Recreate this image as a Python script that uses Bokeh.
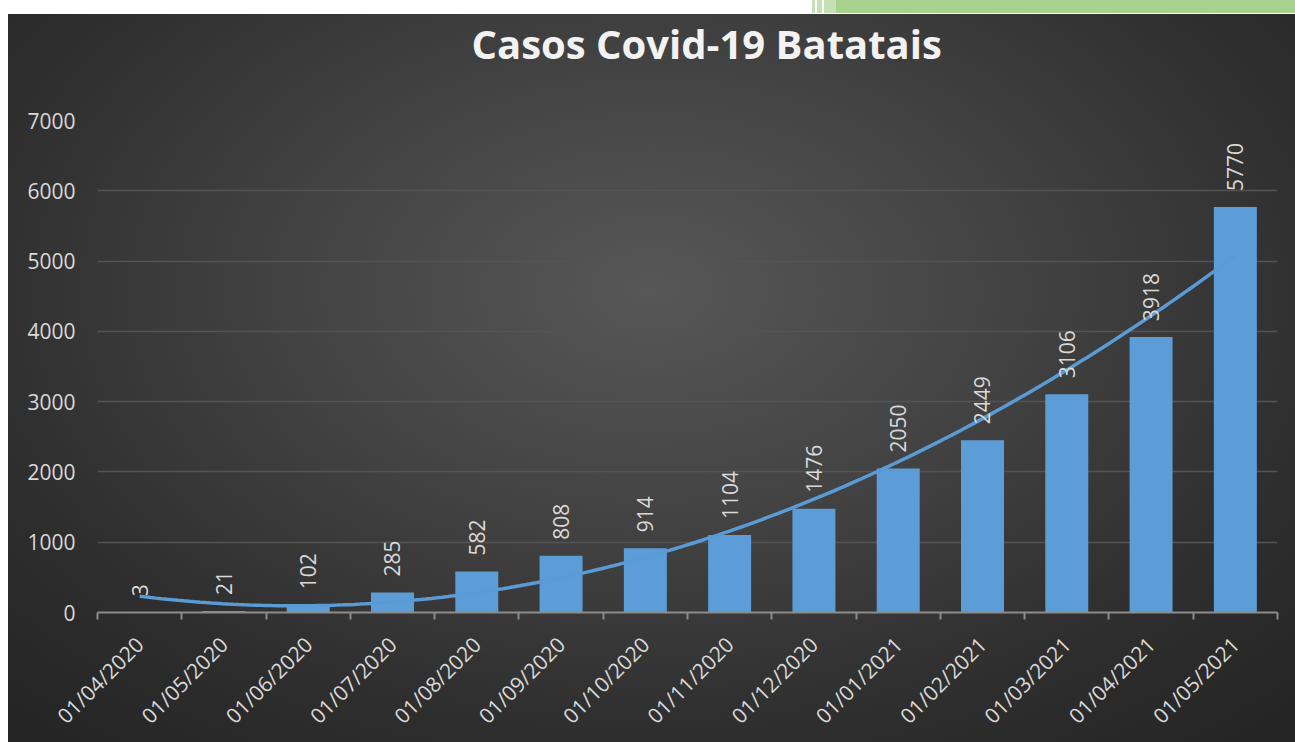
import numpy as np
from bokeh.plotting import figure
from bokeh.models import (ColumnDataSource, FixedTicker, LabelSet, Title, Range1d)
from bokeh.core.properties import value
from bokeh.embed import file_html
from bokeh.resources import INLINE

# ---- data ----
dates = ["01/04/2020", "01/05/2020", "01/06/2020", "01/07/2020", "01/08/2020",
         "01/09/2020", "01/10/2020", "01/11/2020", "01/12/2020", "01/01/2021",
         "01/02/2021", "01/03/2021", "01/04/2021", "01/05/2021"]
cases = [3, 21, 102, 285, 582, 808, 914, 1104, 1476, 2050, 2449, 3106, 3918, 5770]
y_ticks = [0, 1000, 2000, 3000, 4000, 5000, 6000, 7000]
title_text = "Casos Covid-19 Batatais"

idx = list(range(1, len(dates) + 1))
src = ColumnDataSource(dict(x=idx, y=cases, lab=[str(c) for c in cases]))

# polynomial (order 2) trendline, as in the spreadsheet chart
coef = np.polyfit(idx, cases, 2)
tx = np.linspace(1, len(dates), 200)
ty = np.polyval(coef, tx)

FONT = "Open Sans"
TXT = "#d9d9d9"

p = figure(width=1295, height=742, output_backend="svg", toolbar_location=None,
           x_range=Range1d(0.5, len(dates) + 0.5), y_range=Range1d(0, 7000),
           min_border_left=97, min_border_right=18, min_border_top=120,
           min_border_bottom=128, outline_line_color=None)
p.background_fill_color = None
p.border_fill_color = None
strip = ("linear-gradient(to right, #ffffff 0px, #ffffff 812px, #c5e0b4 812px, #c5e0b4 815px, "
         "#ffffff 815px, #ffffff 817px, #c5e0b4 817px, #c5e0b4 822px, #ffffff 822px, #ffffff 824px, "
         "#c5e0b4 824px, #c5e0b4 836px, #a9d18e 836px, #a9d18e 100%) 0 0 / 100% 13px no-repeat")
grad = ("radial-gradient(ellipse 75% 85% at 50% 38%, #575757 0%, #444444 35%, #2f2f2f 70%, #232323 100%) "
        "8px 14px / calc(100% - 8px) calc(100% - 14px) no-repeat")
p.styles = {"background": strip + ", " + grad + ", #ffffff"}

title = Title(text=title_text, align="left", offset=374, vertical_align="top",
              standoff=24, padding=dict(left=0, right=0, top=0, bottom=36),
              text_font=FONT, text_font_size="40px",
              text_font_style="bold", text_color="#f2f2f2")
p.add_layout(title, "above")

p.vbar(x="x", top="y", width=0.51, source=src, fill_color="#5d9dd7",
       line_color=None)
p.line(tx, ty, line_color="#5b9bd5", line_width=3.5)

labels = LabelSet(x="x", y="y", text="lab", source=src, angle=np.pi / 2,
                  text_align="left", text_baseline="middle", y_offset=16,
                  text_color=TXT, text_font=value(FONT), text_font_size="21px")
p.add_layout(labels)

# x axis
p.xaxis.ticker = FixedTicker(ticks=idx, minor_ticks=[i + 0.5 for i in range(0, len(dates) + 1)])
p.xaxis.major_label_overrides = {i: d for i, d in zip(idx, dates)}
p.xaxis.major_label_orientation = np.pi / 4
p.xaxis.major_tick_out = 0
p.xaxis.major_tick_in = 0
p.xaxis.minor_tick_out = 7
p.xaxis.minor_tick_in = 0
p.xaxis.minor_tick_line_color = "#8c8c8c"
p.xaxis.minor_tick_line_width = 2
p.xaxis.axis_line_color = "#8c8c8c"
p.xaxis.axis_line_width = 2
p.xaxis.major_label_text_color = TXT
p.xaxis.major_label_text_font = FONT
p.xaxis.major_label_text_font_size = "21px"
p.xaxis.major_label_standoff = 21
p.xgrid.grid_line_color = None

# y axis
p.yaxis.ticker = FixedTicker(ticks=y_ticks)
p.yaxis.axis_line_color = None
p.yaxis.major_tick_out = 0
p.yaxis.major_tick_in = 0
p.yaxis.major_tick_line_color = None
p.yaxis.minor_tick_line_color = None
p.yaxis.major_label_text_color = TXT
p.yaxis.major_label_text_font = FONT
p.yaxis.major_label_text_font_size = "21px"
p.yaxis.major_label_standoff = 22
p.ygrid.grid_line_color = "#545454"
p.ygrid.grid_line_width = 1.5

open("out.html", "w").write(file_html(p, INLINE))
